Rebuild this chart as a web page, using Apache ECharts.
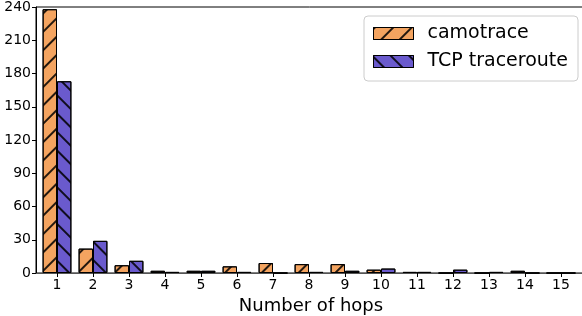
<!DOCTYPE html>
<html><head><meta charset="utf-8">
<script src="https://cdn.jsdelivr.net/npm/echarts@6/dist/echarts.min.js"></script>
<style>html,body{margin:0;padding:0;background:#fff}#c{width:582px;height:316px}</style>
</head><body><div id="c"></div>
<script>
const hops = [1,2,3,4,5,6,7,8,9,10,11,12,13,14,15];
const camotrace = [238,22,7,2,2,6,9,8,8,3,1,0,0,2,0];
const tcpTraceroute = [173,29,11,1,2,1,0,1,2,4,1,3,1,0,0];
const yTicks = [0,30,60,90,120,150,180,210,240];
const seriesNames = ['camotrace','TCP traceroute'];

const FONT = 'DejaVu Sans';
const chart = echarts.init(document.getElementById('c'), null, {renderer:'canvas'});
function mk(name, vals, color, rot){
  return {
    name: name, type:'bar',
    data: hops.map((h,i)=>[h, vals[i]]),
    barWidth: 14.4, barGap:'0%',
    itemStyle:{color:color, borderColor:'#000', borderWidth:1,
      decal:{symbol:'rect', symbolSize:1, dashArrayX:[1,0], dashArrayY:[1.5,11], rotation:rot, color:'rgba(0,0,0,0.85)'}},
    emphasis:{disabled:true}, animation:false
  };
}
chart.setOption({
  animation:false,
  aria:{enabled:false},
  grid:{left:36, right:-4, top:7, bottom:43, outerBoundsMode:'none', containLabel:false,
    show:true, borderColor:'#000', borderWidth:1, backgroundColor:'transparent'},
  legend:{
    orient:'vertical', right:4, top:16, data:seriesNames, icon:'rect',
    itemWidth:40, itemHeight:12, itemGap:9,
    padding:[8,10,10,9],
    itemStyle:{borderWidth:1, borderColor:'#000'},
    borderColor:'#ccc', borderWidth:1, borderRadius:4, backgroundColor:'#fff',
    textStyle:{fontFamily:FONT, fontSize:19, color:'#000', lineHeight:18, padding:[0,0,0,9]}
  },
  xAxis:{
    type:'value', min:1-21/36, max:15+25/36,
    name:'Number of hops', nameLocation:'middle', nameGap:20,
    nameTextStyle:{fontFamily:FONT, fontSize:18, color:'#000'},
    axisLine:{show:true, lineStyle:{color:'#555', width:1}},
    axisTick:{show:true, inside:false, length:4, lineStyle:{color:'#000'}, customValues:hops},
    axisLabel:{fontFamily:FONT, fontSize:14, color:'#000', margin:5, customValues:hops},
    splitLine:{show:false}
  },
  yAxis:{
    type:'value', min:0, max:240, interval:30,
    axisLine:{show:true, lineStyle:{color:'#000', width:1}},
    axisTick:{show:true, length:4, lineStyle:{color:'#000'}},
    axisLabel:{fontFamily:FONT, fontSize:14, color:'#000', margin:5, customValues:yTicks},
    splitLine:{show:false}
  },
  series:[
    mk(seriesNames[0], camotrace, '#F4A460', -Math.PI/4),
    mk(seriesNames[1], tcpTraceroute, '#6A5ACD', Math.PI/4)
  ]
});
</script></body></html>
